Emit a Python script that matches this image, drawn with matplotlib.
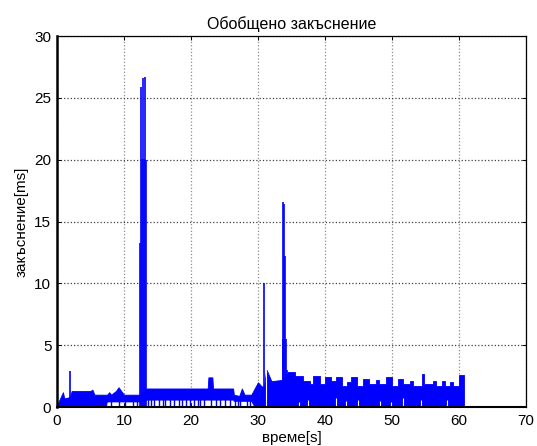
import matplotlib
matplotlib.use('Agg')
import matplotlib.pyplot as plt
import numpy as np

plt.rcParams['font.family'] = ['Liberation Sans', 'DejaVu Sans']

# dense delay band, first part: time [s], upper and lower edge [ms]
band_t = [0.0, 0.3, 0.9, 1.1, 1.9, 2.2, 5.0, 5.3, 5.6, 7.0, 7.5, 7.8, 8.1, 8.8,
          9.2, 9.6, 10.0, 12.4, 13.4, 22.5, 22.6, 23.2, 23.3, 26.3, 26.4, 27.2,
          27.6, 28.0, 29.0, 29.5, 30.0, 30.5, 30.9, 31.2, 31.3, 32.0, 32.1,
          33.7, 34.5]
band_hi = [0.0, 0.5, 1.2, 0.7, 0.8, 1.3, 1.3, 1.4, 1.0, 1.0, 1.0, 1.2, 1.0, 1.3,
           1.6, 1.3, 1.0, 1.0, 1.5, 1.5, 2.4, 2.4, 1.5, 1.5, 1.0, 0.9,
           1.5, 1.0, 1.0, 1.5, 2.0, 1.7, 1.6, 2.9, 3.0, 2.1, 2.1,
           2.2, 2.8]
band_lo = [0.0, 0.0, 0.0, 0.0, 0.0, 0.0, 0.0, 0.0, 0.0, 0.0, 0.45, 0.45, 0.45, 0.45,
           0.45, 0.45, 0.45, 0.45, 0.6, 0.6, 0.6, 0.6, 0.6, 0.6, 0.5, 0.5,
           0.5, 0.5, 0.5, 0.0, 0.0, 0.0, 0.0, 0.0, 0.0, 0.0, 0.0,
           0.0, 0.0]

# dense delay band, second part: level held from each time to the next
step_t = [34.5, 35.55, 36.75, 37.75, 38.2, 39.25, 39.95, 40.85, 41.65, 42.55,
          43.35, 43.95, 44.85, 45.75, 46.55, 47.55, 48.05, 49.15, 50.05, 50.85,
          51.65, 52.75, 53.15, 54.5, 54.75, 56.15, 56.55, 57.45, 57.85, 58.65,
          59.05, 59.95, 60.8]
step_v = [2.8, 2.5, 2.1, 1.9, 2.5, 1.9, 2.4, 2.1, 2.4, 1.7,
          2.0, 2.4, 1.7, 2.3, 1.9, 2.2, 1.9, 2.4, 1.7, 2.3,
          1.9, 2.1, 1.7, 2.7, 1.9, 2.1, 1.7, 2.1, 1.7, 2.0,
          1.7, 2.6, 2.6]

# samples that drop to zero below the band
dip_t = [7.3, 8.0, 9.2, 10.1, 11.3, 12.0, 13.6, 14.0, 14.5, 15.2, 15.8, 16.1,
         16.9, 17.4, 18.2, 18.6, 19.3, 19.9, 20.5, 21.0, 21.4, 22.0, 23.0,
         23.8, 24.4, 25.1, 25.9, 26.6, 27.0, 27.3, 28.3, 28.8]
dip_top = [0.5, 0.5, 0.5, 0.5, 0.5, 0.5, 0.7, 0.7, 0.7, 0.7, 0.7, 0.7,
           0.7, 0.7, 0.7, 0.7, 0.7, 0.7, 0.7, 0.7, 0.7, 0.7, 0.7,
           0.7, 0.7, 0.7, 0.7, 0.6, 0.6, 0.6, 0.6, 0.6]

# short gaps where no low samples fall
gap_t = [31.15, 37.5, 41.7, 45.0, 48.2, 51.7, 54.4, 58.2, 36.2, 43.2, 49.8]
gap_top = [3.0, 0.6, 0.7, 0.6, 0.5, 0.7, 0.6, 0.6, 0.4, 0.5, 0.4]

# single peaks
spike_t = [2.0, 12.4, 12.55, 12.7, 12.85, 13.0, 13.2, 13.3, 30.9,
           33.7, 33.8, 33.95, 34.05, 34.15, 34.3]
spike_v = [2.9, 13.3, 25.9, 20.1, 26.6, 20.1, 26.7, 20.0, 10.0,
           5.5, 16.6, 16.4, 12.2, 5.5, 3.0]

blue = '#0000ff'

fig = plt.figure(figsize=(5.37, 4.46), dpi=100)
ax = fig.add_axes([0.106, 0.0874, 0.8735, 0.8316])

ax.fill_between(band_t, band_lo, band_hi, color=blue, lw=0.6, edgecolor=blue)
ax.fill_between(step_t, 0, step_v, step='post', color=blue, lw=0.6,
                edgecolor=blue)
ax.vlines(dip_t, 0, dip_top, color=blue, lw=1.0)
ax.vlines(gap_t, 0, gap_top, color='white', lw=0.8)
ax.vlines(spike_t, 0, spike_v, color=blue, lw=1.2)

ax.set_xlim(0, 70)
ax.set_ylim(0, 30)
ax.set_xticks(np.arange(0, 71, 10))
ax.set_yticks(np.arange(0, 31, 5))
ax.xaxis.grid(True, color='0.55', ls=':', lw=0.9)
ax.yaxis.grid(True, color='0.25', ls=':', lw=0.9)
ax.set_axisbelow(True)

ax.tick_params(direction='in', length=3, width=0.7, top=True, right=True,
               labelsize=11, pad=4)
ax.tick_params(axis='x', pad=5)
ax.spines['left'].set_linewidth(1.8)
ax.spines['bottom'].set_linewidth(1.5)
ax.spines['top'].set_linewidth(0.9)
ax.spines['right'].set_linewidth(0.9)

ax.set_title('Обобщено закъснение', fontsize=11.5, pad=5)
ax.set_xlabel('време[s]', fontsize=11, labelpad=2)
ax.set_ylabel('закъснение[ms]', fontsize=11, labelpad=4)

fig.savefig('out.png', dpi=100)
